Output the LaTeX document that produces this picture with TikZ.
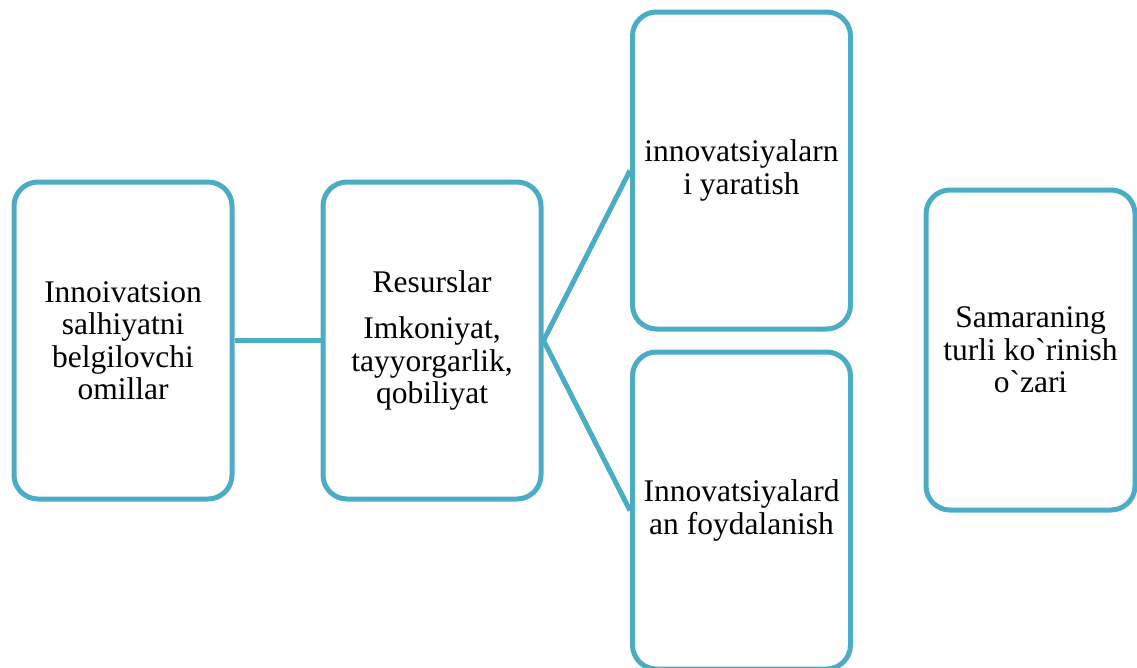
\documentclass[tikz,border=0pt]{standalone}
\usepackage{fontspec}
\setmainfont{Liberation Serif}[Ligatures=TeXOff]
\usepackage{xcolor}
\definecolor{boxblue}{HTML}{4BACC6}

\begin{document}
\begin{tikzpicture}[x=1pt,y=-1pt]
  \useasboundingbox (0,0) rectangle (1137,667);
  \tikzstyle{stage}=[rectangle,draw=boxblue,line width=5pt,rounded corners=24pt,minimum width=218pt,minimum height=317pt,inner sep=0pt,align=center,font=\fontsize{31.5}{32.5}\selectfont]
  \tikzstyle{link}=[draw=boxblue,line width=5pt]
  \node[stage] (factors) at (123,340.5) {Innoivatsion\\salhiyatni\\belgilovchi\\omillar};
  \node[stage] (resources) at (432,340.5) {Resurslar\\[14pt]Imkoniyat,\\tayyorgarlik,\\qobiliyat};
  \node[stage] (create) at (741.5,170.5) {innovatsiyalarn\\i yaratish};
  \node[stage] (use) at (741.5,510.5) {Innovatsiyalard\\an foydalanish};
  \node[stage,minimum width=209pt,minimum height=320pt] (effect) at (1030.5,350) {Samaraning\\turli ko`rinish\\o`zari};
  \draw[link] (factors) -- (resources);
  \draw[link] (resources.east) -- (create.west);
  \draw[link] (resources.east) -- (use.west);
\end{tikzpicture}
\end{document}
